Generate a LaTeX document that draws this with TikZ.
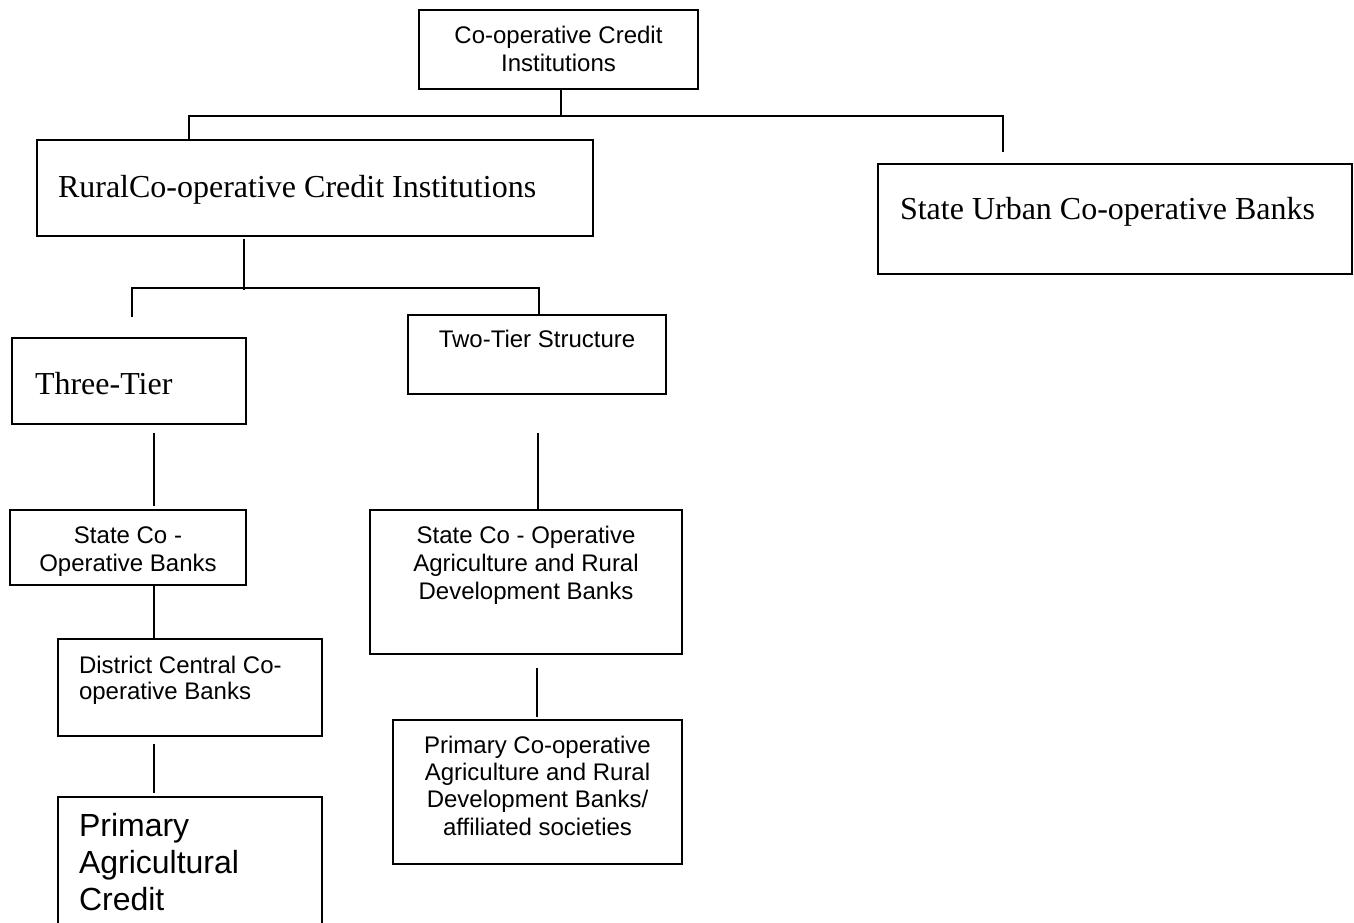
\documentclass[tikz,border=0pt]{standalone}
\usepackage{fontspec}
\setmainfont{Liberation Serif}
\setsansfont{Liberation Sans}
\begin{document}
\begin{tikzpicture}[x=0.5pt, y=-0.5pt,
    box/.style={draw, line width=1pt, inner sep=0pt, outer sep=0pt},
    sans/.style={font=\sffamily\fontsize{12}{14}\selectfont},
    serif/.style={font=\rmfamily\fontsize{16}{19}\selectfont},
    link/.style={line width=0.9pt}]
\useasboundingbox (0,0) rectangle (1354,922);
\clip (0,0) rectangle (1354,922);
    % Boxes
\node[box, sans, minimum height=39.5pt, text width=139.5pt, align=flush center, text height=9pt, text depth=15.5pt] (coop) at (558.5,49.5) {Co-operative Credit\\Institutions};
\node[box, serif, minimum height=48pt, inner xsep=10.5pt, text width=257pt, align=flush left, text height=11pt, text depth=2pt] (rural) at (315,188) {RuralCo-operative Credit Institutions};
\node[box, serif, minimum height=55pt, inner xsep=11pt, text width=215pt, align=flush left, text height=11pt, text depth=11pt] (urban) at (1115,219) {State Urban Co-operative Banks};
\node[box, serif, minimum height=43pt, inner xsep=11.5pt, text width=94pt, align=flush left, text height=14pt, text depth=1pt] (three) at (129,381) {Three-Tier};
\node[box, sans, minimum width=129pt, minimum height=39.5pt, text height=9pt, text depth=16.5pt] (two) at (537,354.5) {Two-Tier Structure};
\node[box, sans, minimum height=37.5pt, text width=118pt, align=flush center, text height=9pt, text depth=13.5pt] (sco) at (128,547.5) {State Co -\\Operative Banks};
\node[box, sans, minimum height=72pt, text width=156pt, align=flush center, text height=9pt, text depth=48pt] (scardb) at (526,582) {State Co - Operative\\Agriculture and Rural\\Development Banks};
\node[box, font=\sffamily\fontsize{12}{13}\selectfont, minimum height=48.5pt, inner xsep=10.5pt, text width=111pt, align=flush left, text height=9pt, text depth=23.5pt] (dccb) at (190,687.5) {District Central Co-\\operative Banks};
\node[box, font=\sffamily\fontsize{12}{13.7}\selectfont, minimum height=72pt, text width=144.5pt, align=flush center, text height=9pt, text depth=48pt] (pcardb) at (537.5,792) {Primary Co-operative\\Agriculture and Rural\\Development Banks/\\affiliated societies};
\node[box, font=\sffamily\fontsize{16}{18.5}\selectfont, minimum height=71.5pt, inner xsep=10.5pt, text width=111pt, align=flush left, text height=12pt, text depth=44.5pt] (pacs) at (190,868.5) {Primary\\Agricultural\\Credit};
    % Connectors
\coordinate (j0) at (561,116);
\coordinate (jl) at (189,116);
\coordinate (jr) at (1003,116);
\coordinate (ue) at (1003,152);
\coordinate (k1) at (244,239);
\coordinate (k2) at (244,290);
\coordinate (kl) at (132,288);
\coordinate (kr) at (539,288);
\coordinate (tt) at (132,317);
\coordinate (a1) at (154,433);
\coordinate (a2) at (154,506);
\coordinate (b1) at (538,433);
\coordinate (e1) at (154,744);
\coordinate (e2) at (154,793);
\coordinate (f1) at (537,668);
\coordinate (f2) at (537,717);
\draw[link] (coop.south -| j0) -- (j0);
\draw[link] (rural.north -| jl) -- (jl) -- (jr) -- (ue);
\draw[link] (k1) -- (k2);
\draw[link] (tt) -- (kl) -- (kr) -- (two.north -| kr);
\draw[link] (a1) -- (a2);
\draw[link] (b1) -- (scardb.north -| b1);
\draw[link] (sco.south -| a1) -- (dccb.north -| a1);
\draw[link] (e1) -- (e2);
\draw[link] (f1) -- (f2);
\end{tikzpicture}
\end{document}
